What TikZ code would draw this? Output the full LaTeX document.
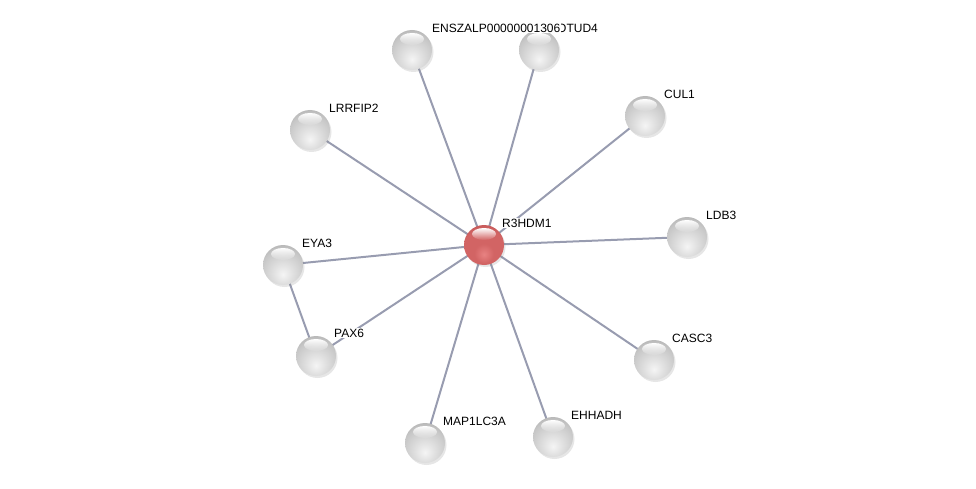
\documentclass[tikz,border=0pt]{standalone}
\usepackage{fontspec}
\setmainfont{Liberation Sans}
\usetikzlibrary{shadows,fadings}
\definecolor{edgec}{RGB}{152,156,176}
\definecolor{rA}{RGB}{232,130,130}
\definecolor{rB}{RGB}{210,100,100}
\definecolor{rC}{RGB}{175,70,70}
\definecolor{rD}{RGB}{120,40,40}
\pgfdeclareradialshading{grayball}{\pgfpoint{0bp}{-12bp}}{%
  color(0bp)=(white!96!black); color(12bp)=(white!88!black); color(28bp)=(white!78!black);
  color(45bp)=(white!60!black); color(55bp)=(white!42!black); color(100bp)=(white!42!black)}
\pgfdeclareradialshading{redball}{\pgfpoint{0bp}{-12bp}}{%
  color(0bp)=(rA); color(12bp)=(rB); color(28bp)=(rB);
  color(45bp)=(rC); color(55bp)=(rD); color(100bp)=(rD)}
\begin{document}
\begin{tikzpicture}[x=1pt,y=-1pt,
  prot/.style={circle,minimum size=40pt,inner sep=0pt,shading=grayball,
    drop shadow={shadow xshift=1.5pt,shadow yshift=-2pt,opacity=0.2}},
  qprot/.style={prot,shading=redball},
  hilite/.style={fill=white,path fading=south},
  lbl/.style={anchor=west,inner sep=1pt,font=\fontsize{12}{14}\selectfont,fill=white},
  edge/.style={draw=edgec,line width=2pt}]
\useasboundingbox (0,0) rectangle (976,489);
\coordinate (cR) at (484,245);
\coordinate (cENS) at (412,50);
\coordinate (cOTU) at (539,50);
\coordinate (cCUL) at (645,116);
\coordinate (cLRR) at (310,130);
\coordinate (cLDB) at (687,237);
\coordinate (cEYA) at (283,265);
\coordinate (cPAX) at (316,356);
\coordinate (cCAS) at (654,360);
\coordinate (cMAP) at (425,443);
\coordinate (cEHH) at (553,437);
% edges
\foreach \n in {cENS,cOTU,cCUL,cLRR,cLDB,cEYA,cPAX,cCAS,cMAP,cEHH}
  \draw[edge] (cR) -- (\n);
\draw[edge] (cEYA) -- (cPAX);
% nodes
\foreach \n in {ENS,OTU,CUL,LRR,LDB,EYA,PAX,CAS,MAP,EHH}{
  \node[prot] (\n) at (c\n) {};
  \fill[hilite] ([yshift=11pt]c\n) ellipse (12pt and 6pt);
}
\node[qprot] (R) at (cR) {};
\fill[hilite] ([yshift=11pt]cR) ellipse (12pt and 6pt);
% labels
\node[lbl] (lOTU) at (556,28) {OTUD4};
\node[lbl] (lENS) at (431,28) {ENSZALP00000001306};
\node[lbl] (lCUL) at (663,94) {CUL1};
\node[lbl] (lLRR) at (328,108) {LRRFIP2};
\node[lbl] (lR) at (501,223) {R3HDM1};
\node[lbl] (lLDB) at (705,215) {LDB3};
\node[lbl] (lEYA) at (301,243) {EYA3};
\node[lbl] (lPAX) at (333,333) {PAX6};
\node[lbl] (lCAS) at (671,338) {CASC3};
\node[lbl] (lMAP) at (442,421) {MAP1LC3A};
\node[lbl] (lEHH) at (570,415) {EHHADH};
\end{tikzpicture}
\end{document}
